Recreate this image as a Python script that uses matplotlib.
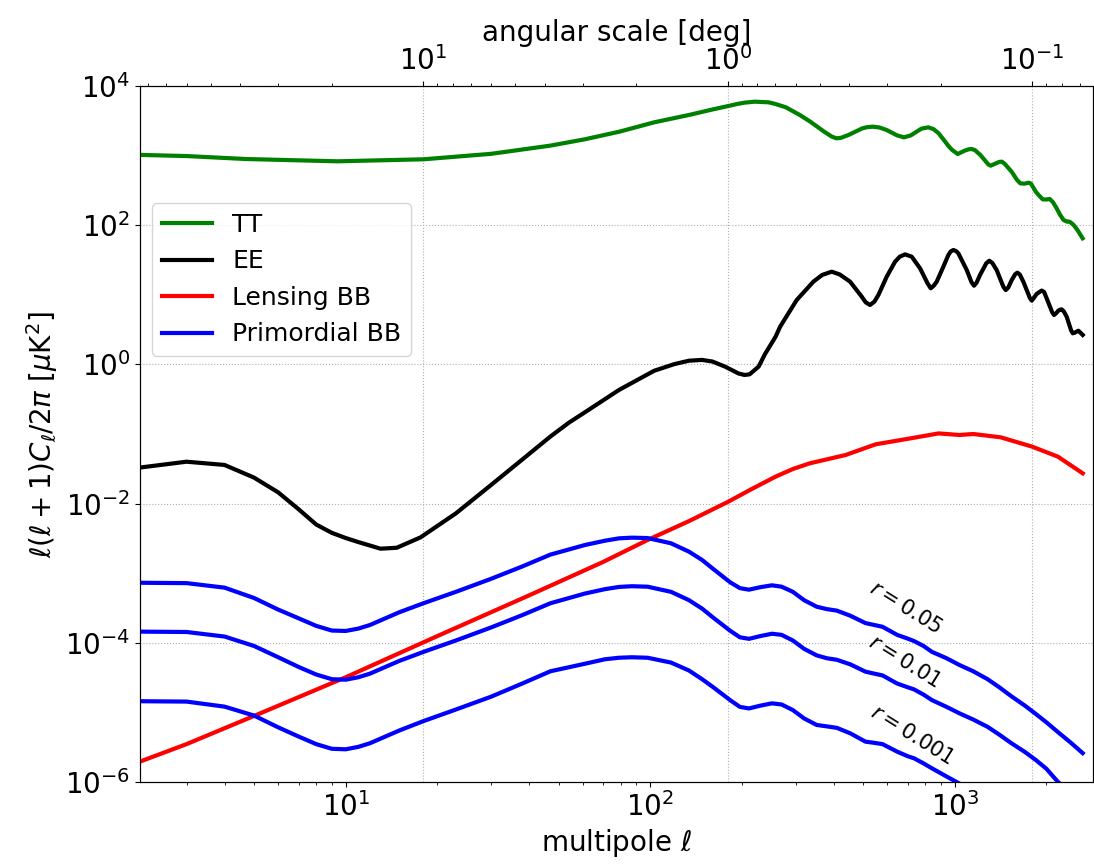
import matplotlib
matplotlib.use("Agg")
import matplotlib.pyplot as plt
from matplotlib.ticker import FixedLocator, NullLocator

# Temperature power spectrum D_ell [uK^2]
ell_tt = [2, 3, 4.7, 9.4, 18, 30, 46.9, 60.9, 79.2, 103, 133.9, 160.9, 180.5, 192.8,
          203.7, 220.4, 244.8, 258, 279, 309.9, 335.4, 372.5, 395, 408.6, 423, 447.7,
          497.3, 515, 538, 565, 597.5, 647, 681.2, 717, 777, 818.5, 852, 885.5, 957.8,
          982, 1023, 1078, 1110, 1136, 1165, 1214, 1290, 1313, 1366, 1400, 1428, 1460,
          1537, 1600, 1641, 1693, 1751, 1780, 1846, 1880, 1945, 1998, 2051, 2100,
          2161, 2220, 2277, 2338, 2370, 2401, 2460, 2529, 2630]
dl_tt = [1030, 985, 893, 828, 885, 1060, 1389, 1713, 2207, 3006, 3831, 4621, 5160, 5508,
         5760, 5955, 5827, 5508, 4938, 3831, 3073, 2207, 1871, 1771, 1800, 1977,
         2465, 2560, 2604, 2540, 2332, 1950, 1830, 1950, 2437, 2548, 2400, 2089, 1344,
         1200, 1054, 1177, 1230, 1244, 1200, 1020, 745, 716.5, 774, 812, 818, 760,
         587.6, 450, 399.5, 395, 408.4, 395, 303.3, 275, 235.3, 234, 237.9, 215,
         174.8, 140, 118.8, 112.4, 113, 109.9, 100, 85.3, 64.8]

# E-mode polarisation
ell_ee = [2, 3, 4, 5, 6, 7, 8, 9, 10, 11, 12, 13, 14.7, 17.6, 23, 30, 38, 47, 54, 61,
          79, 103, 120, 134, 148, 160, 176, 195, 204, 212, 227, 238, 258, 267, 302.7,
          343.4, 367, 394.5, 419, 453.2, 495, 510, 527.2, 545, 561.4, 597.8, 636.8,
          660, 686.8, 722.3, 769.3, 815, 834, 853, 872.6, 917.7, 953, 970, 989.7, 1010,
          1028, 1095, 1135, 1157, 1180, 1211, 1270, 1299, 1330, 1373, 1445, 1471,
          1500, 1539, 1580, 1606, 1635, 1680, 1765, 1790, 1815, 1858, 1900, 1930,
          1965, 2004, 2090, 2119, 2150, 2189, 2215, 2245, 2280, 2331, 2410, 2440,
          2475, 2547, 2632]
dl_ee = [0.032, 0.040, 0.0359, 0.0236, 0.0145, 0.0083, 0.0050, 0.0038, 0.0032, 0.0028,
         0.0025, 0.00225, 0.00232, 0.00327, 0.00724, 0.0185, 0.043, 0.092, 0.145, 0.205,
         0.43, 0.81, 1.01, 1.13, 1.16, 1.10, 0.93, 0.74, 0.705, 0.72, 0.93, 1.4, 2.5,
         3.48, 8.42, 15.44, 19.3, 21.5, 19.6, 15.44, 9.4, 7.8, 7.14, 8.0, 9.93, 18.2,
         29.9, 35.3, 38.1, 35.3, 24.0, 14.5, 12.4, 13.5, 15.44, 25.4, 37.3, 42.0,
         44.0, 42.5, 39.4, 22.7, 15.2, 13.5, 15.0, 19.3, 28.5, 30.9, 28.5, 22.7, 13.0,
         11.7, 12.8, 16.3, 19.8, 20.8, 19.6, 15.44, 9.0, 8.24, 8.9, 10.3, 11.0, 11.5,
         11.0, 8.9, 5.6, 5.13, 5.4, 5.92, 6.1, 6.18, 5.8, 4.85, 3.1, 2.80, 2.85, 3.05,
         2.65]

# Lensing B-modes
ell_lens = [2, 3, 5, 10, 20, 40, 70, 98, 134, 180, 216, 258, 294, 334, 438, 550, 717,
            885, 1036, 1151, 1416, 1798, 2183, 2633]
dl_lens = [1.8e-6, 3.5e-6, 8.9e-6, 3.2e-5, 1.25e-4, 4.8e-4, 1.45e-3, 3.0e-3, 5.6e-3,
           0.0106, 0.0163, 0.0244, 0.0314, 0.0379, 0.0499, 0.0711, 0.0867, 0.102,
           0.0968, 0.100, 0.0896, 0.0657, 0.0472, 0.0272]

# Primordial (tensor) B-modes for three values of r
ell_bb = [2, 3, 4, 5, 6, 7, 8, 9, 10, 11, 12, 15, 18, 23, 30, 38, 47, 61, 71, 79, 87,
          98, 117, 134, 148, 161, 183, 197, 211, 230, 251, 270, 294, 320, 352, 380,
          410, 454, 509, 545, 579, 647, 700, 735, 790, 842, 940, 1036, 1150, 1282,
          1400, 1536, 1700, 1846, 2000, 2184, 2400, 2632]
dl_r05 = [7.3e-4, 7.2e-4, 6.2e-4, 4.4e-4, 3.0e-4, 2.25e-4, 1.75e-4, 1.5e-4, 1.48e-4,
          1.6e-4, 1.8e-4, 2.75e-4, 3.7e-4, 5.4e-4, 8.3e-4, 1.25e-3, 1.85e-3, 2.54e-3,
          2.93e-3, 3.17e-3, 3.24e-3, 3.2e-3, 2.69e-3, 2.04e-3, 1.55e-3, 1.15e-3,
          7.4e-4, 6.1e-4, 5.8e-4, 6.3e-4, 6.7e-4, 6.4e-4, 5.4e-4, 4.1e-4, 3.3e-4,
          3.05e-4, 2.9e-4, 2.45e-4, 1.92e-4, 1.8e-4, 1.7e-4, 1.3e-4, 1.15e-4, 1.06e-4,
          9.0e-5, 7.4e-5, 6.0e-5, 4.8e-5, 3.9e-5, 3.0e-5, 2.3e-5, 1.7e-5, 1.25e-5,
          9.5e-6, 7.2e-6, 5.2e-6, 3.7e-6, 2.6e-6]
dl_r01 = [1.45e-4, 1.43e-4, 1.23e-4, 9.0e-5, 6.2e-5, 4.5e-5, 3.5e-5, 3.0e-5, 2.95e-5,
          3.2e-5, 3.6e-5, 5.5e-5, 7.4e-5, 1.08e-4, 1.66e-4, 2.5e-4, 3.7e-4, 5.1e-4,
          5.9e-4, 6.35e-4, 6.5e-4, 6.4e-4, 5.4e-4, 4.1e-4, 3.1e-4, 2.3e-4, 1.49e-4,
          1.2e-4, 1.14e-4, 1.25e-4, 1.35e-4, 1.3e-4, 1.08e-4, 8.2e-5, 6.6e-5, 6.0e-5,
          5.7e-5, 4.9e-5, 3.85e-5, 3.6e-5, 3.4e-5, 2.6e-5, 2.3e-5, 2.14e-5, 1.8e-5,
          1.5e-5, 1.2e-5, 9.7e-6, 7.9e-6, 6.2e-6, 4.8e-6, 3.6e-6, 2.7e-6, 2.07e-6,
          1.55e-6, 1.0e-6, 7.2e-7, 5.0e-7]
dl_r001 = [1.45e-5, 1.43e-5, 1.21e-5, 9.0e-6, 6.1e-6, 4.5e-6, 3.5e-6, 3.0e-6, 2.95e-6,
           3.2e-6, 3.6e-6, 5.5e-6, 7.5e-6, 1.1e-5, 1.68e-5, 2.6e-5, 3.9e-5, 5.0e-5,
           5.8e-5, 6.1e-5, 6.2e-5, 6.1e-5, 5.2e-5, 4.0e-5, 3.0e-5, 2.3e-5, 1.5e-5,
           1.2e-5, 1.14e-5, 1.25e-5, 1.35e-5, 1.3e-5, 1.08e-5, 8.2e-6, 6.6e-6, 6.3e-6,
           6.0e-6, 5.0e-6, 3.8e-6, 3.65e-6, 3.5e-6, 2.73e-6, 2.35e-6, 2.19e-6, 1.85e-6,
           1.57e-6, 1.2e-6, 9.5e-7, 7.6e-7, 6.0e-7, 4.6e-7, 3.5e-7, 2.6e-7, 2.0e-7,
           1.5e-7, 1.0e-7, 7.0e-8, 5.0e-8]

r_labels = [r'$r=0.05$', r'$r=0.01$', r'$r=0.001$']
r_label_pos = [(691, 3.24e-4), (682, 5.36e-5), (722, 4.73e-6)]

ell_min, ell_max = 2.11, 2845
y_ticks = [1e-6, 1e-4, 1e-2, 1e0, 1e2, 1e4]

fig = plt.figure(figsize=(10.94, 8.64), dpi=100)
ax = fig.add_axes([140 / 1094, 82 / 864, 953 / 1094, 696 / 864])
ax.set_xscale('log')
ax.set_yscale('log')

lw = 3
ax.plot(ell_tt, dl_tt, color='green', lw=lw, label='TT')
ax.plot(ell_ee, dl_ee, color='black', lw=lw, label='EE')
ax.plot(ell_lens, dl_lens, color='red', lw=lw, label='Lensing BB')
ax.plot(ell_bb, dl_r05, color='blue', lw=lw, label='Primordial BB')
ax.plot(ell_bb, dl_r01, color='blue', lw=lw)
ax.plot(ell_bb, dl_r001, color='blue', lw=lw)

for txt, (xl, yl) in zip(r_labels, r_label_pos):
    ax.text(xl, yl, txt, rotation=-32, ha='center', va='center',
            rotation_mode='anchor', fontsize=15)

ax.set_xlim(ell_min, ell_max)
ax.set_ylim(1e-6, 1e4)
ax.yaxis.set_major_locator(FixedLocator(y_ticks))
ax.yaxis.set_minor_locator(NullLocator())
ax.tick_params(axis='both', which='major', labelsize=20)
ax.yaxis.grid(True, ls=':', color='#b0b0b0', lw=0.8)

ax.set_xlabel(r'multipole $\ell$', fontsize=20)
ax.set_ylabel(r'$\ell(\ell+1)C_\ell/2\pi$ [$\mu$K$^2$]', fontsize=20)

# angular scale axis on top: theta [deg] = 180 / ell
ax2 = ax.twiny()
ax2.set_xscale('log')
ax2.set_xlim(180 / ell_min, 180 / ell_max)
ax2.tick_params(axis='x', which='major', labelsize=20)
ax2.xaxis.grid(True, ls=':', color='#b0b0b0', lw=0.8)
ax2.set_xlabel('angular scale [deg]', fontsize=20)

ax.set_zorder(ax2.get_zorder() + 1)
ax.patch.set_visible(False)

ax.legend(loc='upper left', bbox_to_anchor=(0.0126, 0.832), borderaxespad=0,
          fontsize=18)

fig.savefig('out.png', dpi=100)
